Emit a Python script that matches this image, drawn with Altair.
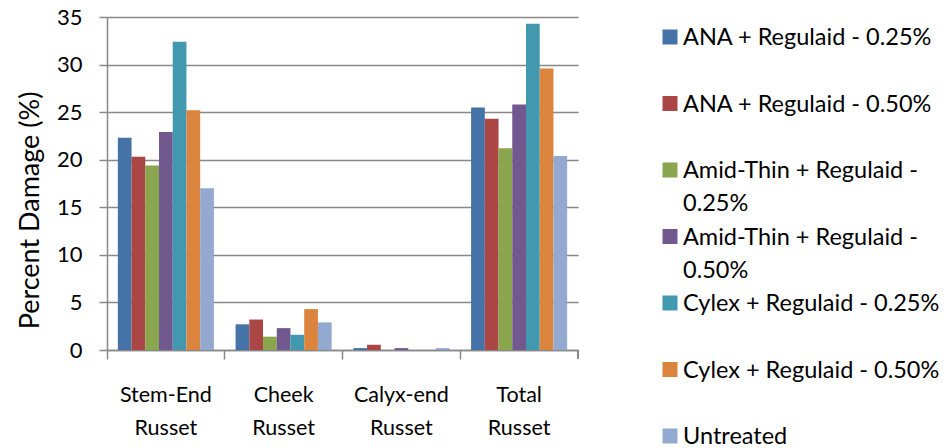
import altair as alt
import pandas as pd

FONT = "Lato"

categories = ["Stem-End Russet", "Cheek Russet", "Calyx-end Russet", "Total Russet"]
series = [
    "ANA + Regulaid - 0.25%",
    "ANA + Regulaid - 0.50%",
    "Amid-Thin + Regulaid - 0.25%",
    "Amid-Thin + Regulaid - 0.50%",
    "Cylex + Regulaid - 0.25%",
    "Cylex + Regulaid - 0.50%",
    "Untreated",
]
legend_labels = [
    "ANA + Regulaid - 0.25%",
    "ANA + Regulaid - 0.50%",
    "Amid-Thin + Regulaid -\n0.25%",
    "Amid-Thin + Regulaid -\n0.50%",
    "Cylex + Regulaid - 0.25%",
    "Cylex + Regulaid - 0.50%",
    "Untreated",
]
ana_025 = [22.3, 2.7, 0.2, 25.5]
ana_050 = [20.3, 3.2, 0.55, 24.3]
amid_025 = [19.4, 1.4, 0.0, 21.2]
amid_050 = [22.9, 2.3, 0.2, 25.8]
cylex_025 = [32.4, 1.6, 0.0, 34.3]
cylex_050 = [25.2, 4.3, 0.0, 29.6]
untreated = [17.0, 2.9, 0.2, 20.4]
colors = ["#4572A7", "#AA4643", "#89A54E", "#71588F", "#4198AF", "#DB843D", "#93A9CF"]

all_values = [ana_025, ana_050, amid_025, amid_050, cylex_025, cylex_050, untreated]
rows = []
for s, vals in zip(series, all_values):
    for c, v in zip(categories, vals):
        rows.append({"category": c, "series": s, "value": v})
df = pd.DataFrame(rows)
leg_df = pd.DataFrame({"series": series, "label": legend_labels})

W, H = 471, 333
GRAY = "#888888"

color_scale = alt.Scale(domain=series, range=colors)

bars = alt.Chart(df).mark_bar().encode(
    x=alt.X(
        "category:N",
        sort=categories,
        scale=alt.Scale(paddingInner=0, paddingOuter=0),
        axis=alt.Axis(
            title=None,
            labelAngle=0,
            bandPosition=0,
            labelExpr="split(datum.label, ' ')",
            labelLineHeight=33,
            labelBaseline="top",
            labelPadding=25,
            tickSize=9,
            labelFontSize=21.5,
        ),
    ),
    xOffset=alt.XOffset(
        "series:N", sort=series, scale=alt.Scale(paddingOuter=0.79, paddingInner=0)
    ),
    y=alt.Y(
        "value:Q",
        scale=alt.Scale(domain=[0, 35], nice=False),
        axis=alt.Axis(
            values=list(range(0, 36, 5)),
            title="Percent Damage (%)",
            titleAngle=270,
            titleX=-77,
            titleY=193,
            titleAlign="center",
            titleBaseline="middle",
            titleFontSize=27,
            titleFontWeight="normal",
            tickSize=8,
            labelPadding=17,
            labelFontSize=22,
            grid=True,
        ),
    ),
    color=alt.Color("series:N", scale=color_scale, legend=None),
)

end_tick = alt.Chart(leg_df).mark_rule(color=GRAY, strokeWidth=1.5).encode(
    x=alt.value(W), y=alt.value(H), y2=alt.value(H + 9)
)

leg_y = alt.Y(
    "series:N",
    sort=series,
    scale=alt.Scale(type="point", domain=series, range=[20, 419], padding=0),
    axis=None,
)

leg_sq = alt.Chart(leg_df).mark_square(size=225, opacity=1).encode(
    x=alt.value(563),
    y=leg_y,
    color=alt.Color("series:N", scale=color_scale, legend=None),
)

leg_txt = alt.Chart(leg_df).mark_text(
    align="left", baseline="alphabetic", dy=8, lineBreak="\n", lineHeight=33,
    fontSize=23.5, font=FONT, color="black"
).encode(
    x=alt.value(576),
    y=leg_y,
    text="label:N",
)

chart = (
    alt.layer(bars, end_tick, leg_sq, leg_txt)
    .resolve_scale(y="independent")
    .properties(
        width=W,
        height=H,
        padding={"left": 99, "top": 9, "right": 365, "bottom": 110},
        autosize=alt.AutoSizeParams(type="none"),
    )
    .configure(font=FONT)
    .configure_view(stroke=None)
    .configure_axis(
        domainColor=GRAY,
        domainWidth=1.5,
        tickColor=GRAY,
        tickWidth=1.5,
        gridColor=GRAY,
        gridWidth=1.5,
        gridOpacity=1,
        labelColor="black",
        titleColor="black",
        labelFont=FONT,
        titleFont=FONT,
    )
)

chart.save("out.html", embed_options={"renderer": "svg", "actions": False})
